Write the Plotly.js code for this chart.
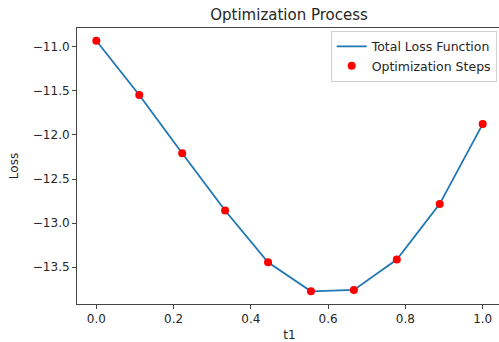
<!DOCTYPE html>
<html>
<head>
<meta charset="utf-8">
<script src="https://cdn.plot.ly/plotly-3.0.1.min.js"></script>
<style>
html,body{margin:0;padding:0;overflow:hidden;background:#fff;}
#chart{width:504px;height:342px;}
</style>
</head>
<body>
<div id="chart"></div>
<script>
const t1 = [0, 1/9, 2/9, 3/9, 4/9, 5/9, 6/9, 7/9, 8/9, 1];
const loss = [-10.932, -11.548, -12.207, -12.857, -13.444, -13.773, -13.758, -13.413, -12.782, -11.877];
const xTicks = [0.0, 0.2, 0.4, 0.6, 0.8, 1.0];
const yTicks = [-11.0, -11.5, -12.0, -12.5, -13.0, -13.5];

const font = {family: 'DejaVu Sans, sans-serif', size: 12, color: '#262626'};

const traces = [
  {x: t1, y: loss, type: 'scatter', mode: 'lines', name: 'Total Loss Function',
   line: {color: '#1f77b4', width: 1.8}},
  {x: t1, y: loss, type: 'scatter', mode: 'markers', name: 'Optimization Steps',
   marker: {color: '#ff0000', size: 8}}
];

const axisCommon = {
  showline: true, mirror: true, linecolor: '#444', linewidth: 1,
  ticks: 'outside', ticklen: 4, tickcolor: '#444', tickwidth: 1,
  showgrid: false, zeroline: false, tickfont: font, tickformat: '.1f'
};

const layout = {
  width: 504, height: 342,
  margin: {l: 77, r: 2, t: 28, b: 38},
  paper_bgcolor: '#fff', plot_bgcolor: '#fff',
  font: font,
  title: {text: 'Optimization Process', font: {family: 'DejaVu Sans, sans-serif', size: 15, color: '#262626'},
          x: 0.5735, xanchor: 'center', y: 0.958, yanchor: 'middle'},
  xaxis: Object.assign({}, axisCommon, {range: [-0.05, 1.05], tickvals: xTicks,
          title: {text: 't1', font: font, standoff: 8}}),
  yaxis: Object.assign({}, axisCommon, {range: [-13.917, -10.788], tickvals: yTicks,
          title: {text: 'Loss', font: font, standoff: 11}}),
  showlegend: true,
  legend: {x: 0.9875, xanchor: 'right', y: 0.99, yanchor: 'top',
           bgcolor: 'rgba(255,255,255,0.9)', bordercolor: '#d0d0d0', borderwidth: 1,
           font: {family: 'DejaVu Sans, sans-serif', size: 12.5, color: '#262626'},
           tracegroupgap: 0, itemwidth: 30}
};

Plotly.newPlot('chart', traces, layout, {displayModeBar: false, staticPlot: true});
</script>
</body>
</html>
